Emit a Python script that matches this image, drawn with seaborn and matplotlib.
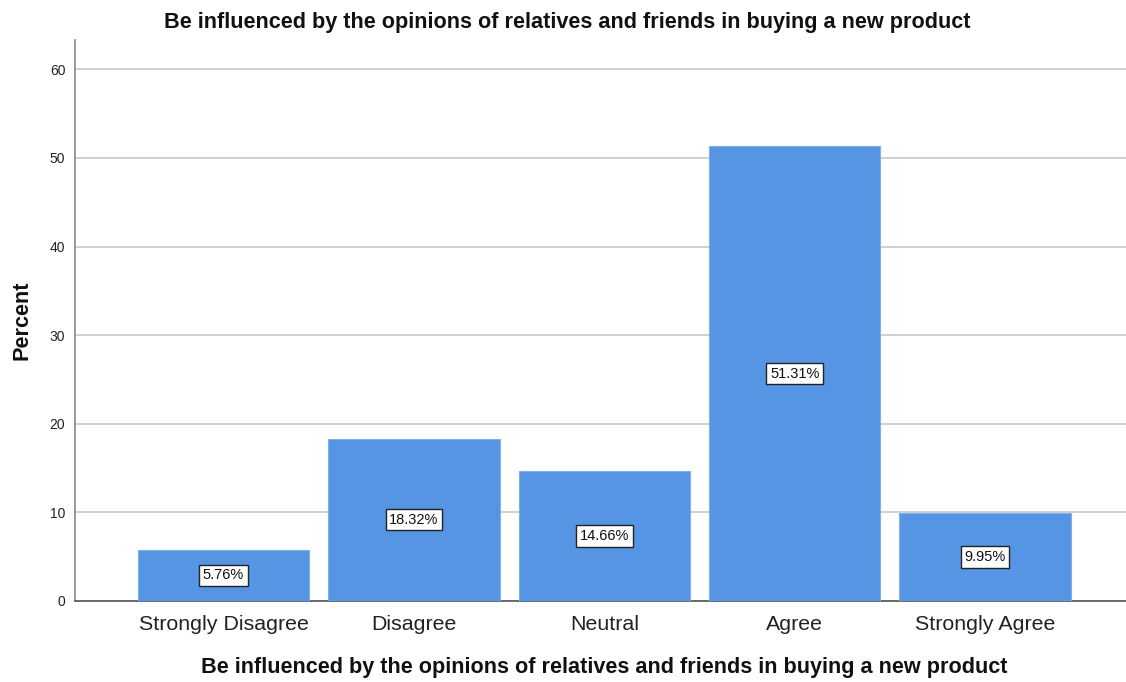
import matplotlib
matplotlib.use("Agg")
import matplotlib.pyplot as plt
import seaborn as sns
import pandas as pd

categories = ["Strongly Disagree", "Disagree", "Neutral", "Agree", "Strongly Agree"]
percents = [5.76, 18.32, 14.66, 51.31, 9.95]
yticks = [0, 10, 20, 30, 40, 50, 60]
title = "Be influenced by the opinions of relatives and friends in buying a new product"

df = pd.DataFrame({"category": categories, "percent": percents})

sns.set_theme(style="white")
plt.rcParams["font.family"] = ["Liberation Sans", "DejaVu Sans"]

fig = plt.figure(figsize=(11.26, 6.82), dpi=100)
ax = fig.add_axes([0.0666, 0.1188, 0.9334, 0.8225])

sns.barplot(data=df, x="category", y="percent", color="#5595e3", saturation=1,
            width=0.9, edgecolor="#7fb0ea", linewidth=0.8, ax=ax, zorder=3)

ax.set_ylim(0, 63.3)
ax.set_xlim(-0.78, 4.74)
ax.set_yticks(yticks)
ax.set_yticklabels([str(t) for t in yticks], fontsize=10, color="#222222")
ax.tick_params(axis="x", labelsize=15.4, colors="#222222", length=0, pad=10)
ax.tick_params(axis="y", length=0, pad=7)
ax.yaxis.grid(True, color="#c8c8c8", linewidth=1.2, zorder=0)
ax.xaxis.grid(False)

for side in ["top", "right"]:
    ax.spines[side].set_visible(False)
ax.spines["left"].set_color("#8a8a8a")
ax.spines["bottom"].set_color("#555555")
ax.spines["left"].set_linewidth(1.2)
ax.spines["bottom"].set_linewidth(1.2)

for i, v in enumerate(percents):
    ax.text(i, v / 2, f"{v:.2f}%", ha="center", va="center", fontsize=10.5,
            color="#111111", zorder=5,
            bbox=dict(boxstyle="square,pad=0.25", facecolor="white",
                      edgecolor="#222222", linewidth=1.0))

ax.set_xlabel(title, fontsize=15.6, fontweight="bold", color="#111111", va="center")
ax.xaxis.set_label_coords(0.504, -0.119)
ax.set_ylabel("Percent", fontsize=15.6, fontweight="bold", color="#111111", va="center")
ax.yaxis.set_label_coords(-0.0505, 0.5)
fig.text(0.5036, 0.9677, title, ha="center", va="center", fontsize=15.6,
         fontweight="bold", color="#111111")

fig.savefig("out.png", dpi=100)
